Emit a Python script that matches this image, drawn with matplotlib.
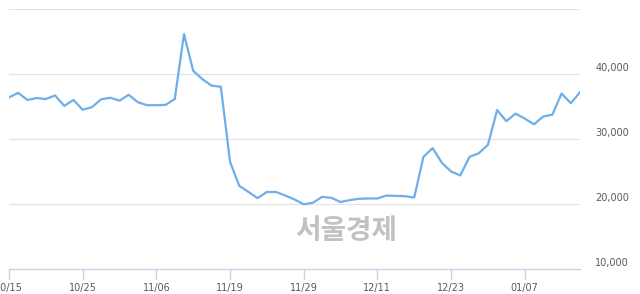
import matplotlib
matplotlib.use("Agg")
import matplotlib.pyplot as plt
import matplotlib.transforms as mtransforms

# 종가 (거래일 기준, 63개)
prices = [36400, 37100, 36000, 36300, 36150, 36700, 35100, 36000, 34500, 34900,
          36100, 36350, 35900, 36800, 35650, 35200, 35200, 35250, 36150, 46150,
          40500, 39200, 38200, 38050, 26500, 22800, 21850, 20900, 21850, 21850,
          21300, 20700, 19950, 20200, 21100, 20950, 20300, 20600, 20800, 20850,
          20850, 21300, 21250, 21200, 21000, 27250, 28600, 26350, 25000, 24400,
          27250, 27800, 29100, 34450, 32750, 33900, 33150, 32250, 33450, 33750,
          37000, 35500, 37200]
tick_labels = ['10/15', '10/25', '11/06', '11/19', '11/29', '12/11', '12/23', '01/07']
tick_step = 8
y_ticks = [10000, 20000, 30000, 40000]
y_grid = [20000, 30000, 40000, 50000]

fig = plt.figure(figsize=(6.4, 2.94), dpi=100)
ax = fig.add_axes([9 / 640, 1 - 269 / 294, (580 - 9) / 640, (269 - 9) / 294])

x = list(range(len(prices)))
ax.plot(x, prices, color='#6eaee9', linewidth=1.6, solid_joinstyle='round', zorder=3)

ax.set_xlim(0, len(prices) - 1)
ax.set_ylim(10000, 50000)

for g in y_grid:
    ax.axhline(g, color='#e3e3e3', linewidth=0.9, zorder=1)

for s in ['top', 'right', 'left']:
    ax.spines[s].set_visible(False)
ax.spines['bottom'].set_color('#c9d2e3')
ax.spines['bottom'].set_linewidth(1.0)

ax.set_xticks([i * tick_step for i in range(len(tick_labels))])
ax.set_xticklabels(tick_labels)
ax.tick_params(axis='x', length=7, width=1.0, color='#c9d2e3', labelsize=7,
               labelcolor='#5a5a5a', pad=3)
ax.set_yticks([])

# 오른쪽 가격 라벨 (격자선 약간 위)
offset = mtransforms.ScaledTranslation(0, 6 / 100, fig.dpi_scale_trans)
trans = mtransforms.blended_transform_factory(ax.transAxes, ax.transData) + offset
for v in y_ticks:
    ax.text(1 + 49 / 571, v, f'{v:,}', transform=trans, ha='right', va='center',
            fontsize=7, color='#5a5a5a', clip_on=False)

# 워터마크
fig.text(346 / 640, 1 - 231 / 294, '서울경제', ha='center', va='center',
         fontsize=20, fontweight='bold', color='#c2c2c2',
         family=['Noto Sans CJK KR', 'DejaVu Sans'], zorder=0)

fig.savefig('out.png', dpi=100)
